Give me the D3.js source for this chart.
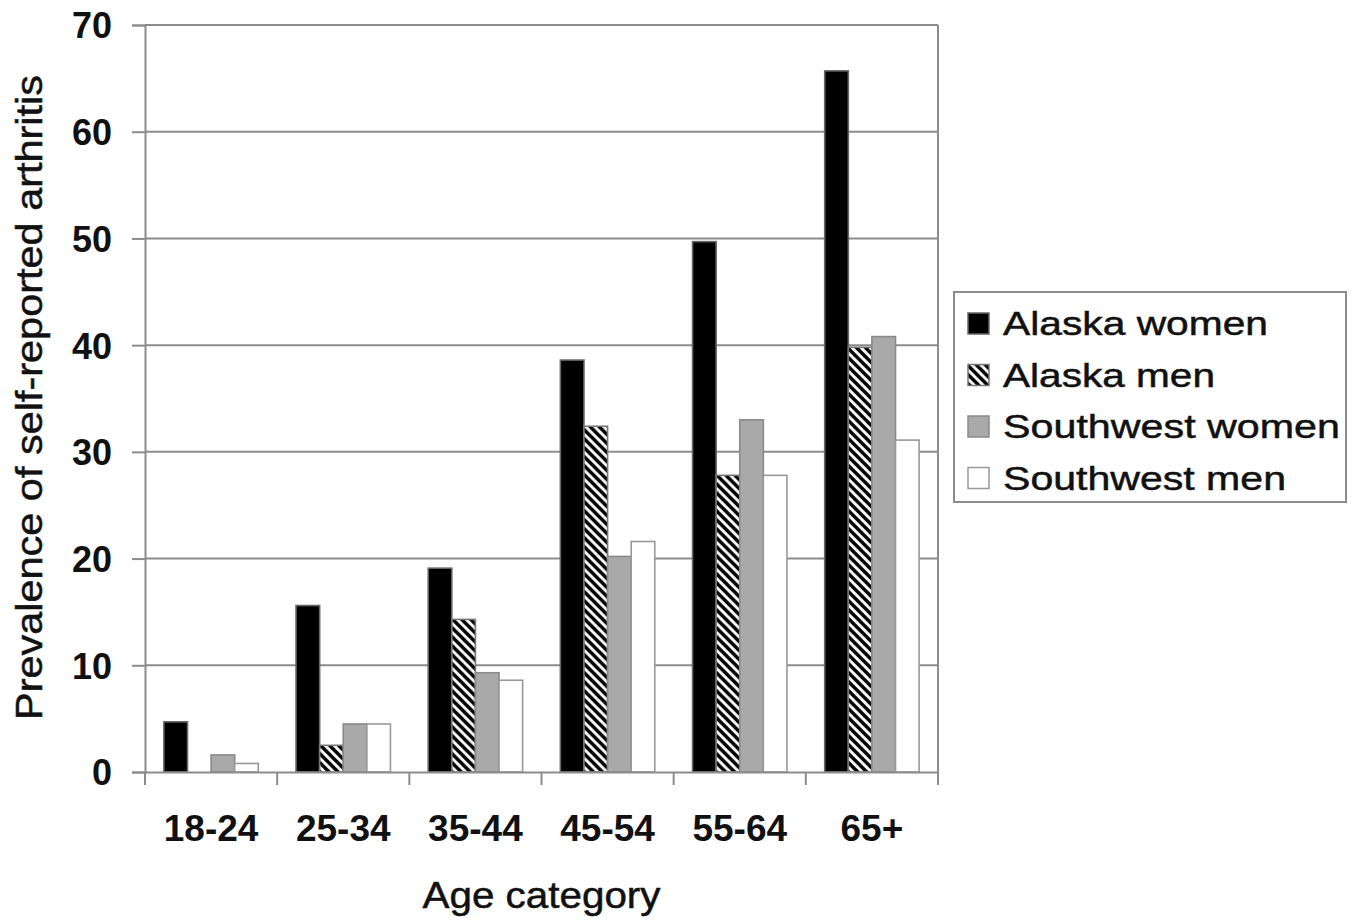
<!DOCTYPE html>
<html>
<head>
<meta charset="utf-8">
<script src="https://cdn.jsdelivr.net/npm/d3@7"></script>
<style>
  html, body { margin: 0; padding: 0; background: #fff; }
  svg { display: block; }
  text { font-family: "Liberation Sans", Arial, sans-serif; fill: #111; }
</style>
</head>
<body>
<svg id="chart" width="1356" height="921"></svg>
<script>
// ---- data ----
const categories = ["18-24", "25-34", "35-44", "45-54", "55-64", "65+"];
const seriesNames = ["Alaska women", "Alaska men", "Southwest women", "Southwest men"];
const alaskaWomen    = [4.7, 15.6, 19.1, 38.6, 49.7, 65.7];
const alaskaMen      = [0.0, 2.5, 14.3, 32.4, 27.8, 39.8];
const southwestWomen = [1.6, 4.5, 9.3, 20.2, 33.0, 40.8];
const southwestMen   = [0.8, 4.5, 8.6, 21.6, 27.8, 31.1];
const yTicks = [0, 10, 20, 30, 40, 50, 60, 70];
const yLabel = "Prevalence of self-reported arthritis";
const xLabel = "Age category";

const seriesValues = [alaskaWomen, alaskaMen, southwestWomen, southwestMen];
const fills = ["#000", "url(#hatch)", "#a9a9a9", "#fff"];
const strokes = ["#666", "#777", "#8a8a8a", "#999"];

const svg = d3.select("#chart");
const pLeft = 145, pRight = 938, pTop = 25, pBottom = 772;

// hatch pattern
const defs = svg.append("defs");
const pat = defs.append("pattern").attr("id", "hatch")
  .attr("patternUnits", "userSpaceOnUse").attr("width", 9).attr("height", 9);
pat.append("rect").attr("width", 9).attr("height", 9).attr("fill", "#fff");
pat.append("path").attr("d", "M-2,-2 L11,11 M-2,7 L2,11 M7,-2 L11,2")
  .attr("stroke", "#000").attr("stroke-width", 3.4);

const x0 = d3.scaleBand().domain(categories).range([pLeft, pRight]).padding(0);
const x1 = d3.scaleBand().domain(seriesNames).range([0, x0.bandwidth()])
  .paddingInner(0).paddingOuter(0.8);
const y = d3.scaleLinear().domain([0, 70]).range([pBottom, pTop]);

// gridlines
svg.append("g").selectAll("line").data(yTicks.filter(d => d > 0)).join("line")
  .attr("x1", pLeft).attr("x2", pRight)
  .attr("y1", d => y(d)).attr("y2", d => y(d))
  .attr("stroke", "#8c8c8c").attr("stroke-width", 2);

// right border
svg.append("line").attr("x1", pRight).attr("x2", pRight).attr("y1", pTop).attr("y2", pBottom)
  .attr("stroke", "#8c8c8c").attr("stroke-width", 2);

// bars
const groups = svg.append("g").selectAll("g").data(categories).join("g")
  .attr("transform", d => `translate(${x0(d)},0)`);
groups.selectAll("rect")
  .data((c, ci) => seriesNames.map((s, si) => ({ s, si, v: seriesValues[si][ci] })).filter(d => d.v > 0))
  .join("rect")
  .attr("x", d => x1(d.s))
  .attr("y", d => y(d.v))
  .attr("width", x1.bandwidth())
  .attr("height", d => y(0) - y(d.v))
  .attr("fill", d => fills[d.si])
  .attr("stroke", d => strokes[d.si])
  .attr("stroke-width", 1.6);

// y axis
const yAxis = svg.append("g").attr("transform", `translate(${pLeft},0)`)
  .call(d3.axisLeft(y).tickValues(yTicks).tickSize(13).tickPadding(20));
yAxis.select(".domain").attr("stroke", "#8c8c8c").attr("stroke-width", 2);
yAxis.selectAll(".tick line").attr("stroke", "#8c8c8c").attr("stroke-width", 2);
yAxis.selectAll(".tick text").attr("font-size", 36).attr("font-family", "Liberation Sans, Arial, sans-serif")
  .attr("font-weight", "bold").attr("fill", "#1a1a1a").attr("dy", "0.36em");

// x axis
const xAxis = svg.append("g").attr("transform", `translate(0,${pBottom})`)
  .call(d3.axisBottom(x0).tickSize(0).tickPadding(43));
xAxis.select(".domain").attr("stroke", "#8c8c8c").attr("stroke-width", 2);
xAxis.selectAll(".tick text").attr("font-size", 37).attr("font-family", "Liberation Sans, Arial, sans-serif")
  .attr("fill", "#1a1a1a").attr("font-weight", "bold").attr("dy", "0.71em");
// category boundary ticks
const bounds = categories.map(c => x0(c)).concat([pRight]);
svg.append("g").selectAll("line").data(bounds).join("line")
  .attr("x1", d => d).attr("x2", d => d)
  .attr("y1", pBottom).attr("y2", pBottom + 13)
  .attr("stroke", "#8c8c8c").attr("stroke-width", 2);

// axis titles
svg.append("text").attr("transform", `translate(${(pLeft + pRight) / 2},${908})`)
  .attr("text-anchor", "middle").attr("font-size", 36)
  .attr("stroke", "#111").attr("stroke-width", 0.5)
  .attr("textLength", 238).attr("lengthAdjust", "spacingAndGlyphs")
  .text(xLabel);
svg.append("text").attr("transform", `translate(42,${(75 + 720) / 2}) rotate(-90)`)
  .attr("text-anchor", "middle").attr("font-size", 37)
  .attr("stroke", "#111").attr("stroke-width", 0.5)
  .attr("textLength", 645).attr("lengthAdjust", "spacingAndGlyphs")
  .text(yLabel);

// legend
const lg = svg.append("g");
lg.append("rect").attr("x", 954).attr("y", 292).attr("width", 392).attr("height", 210)
  .attr("fill", "#fff").attr("stroke", "#8c8c8c").attr("stroke-width", 2);
const legendWidths = [265, 212, 337, 283];
const items = lg.selectAll("g.item").data(seriesNames).join("g").attr("class", "item")
  .attr("transform", (d, i) => `translate(968,${323 + i * 51.5})`);
items.append("rect").attr("x", 0).attr("y", -10).attr("width", 21).attr("height", 21)
  .attr("fill", (d, i) => fills[i]).attr("stroke", (d, i) => strokes[i]).attr("stroke-width", 1.5);
items.append("text").attr("x", 35).attr("y", 12).attr("font-size", 34)
  .attr("stroke", "#111").attr("stroke-width", 0.5)
  .attr("textLength", (d, i) => legendWidths[i]).attr("lengthAdjust", "spacingAndGlyphs")
  .text(d => d);
</script>
</body>
</html>
